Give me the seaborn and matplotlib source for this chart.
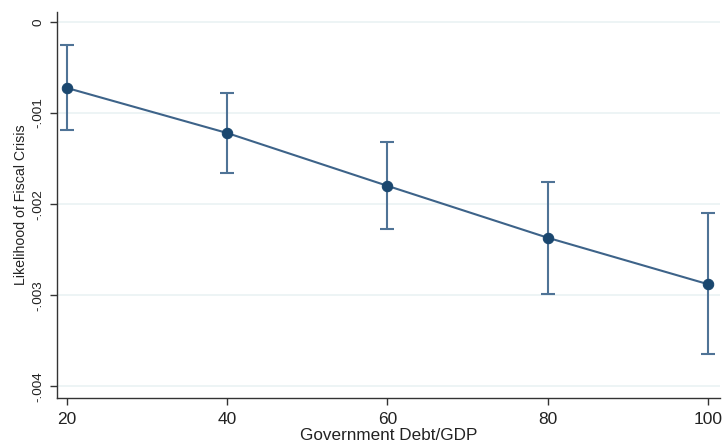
import matplotlib
matplotlib.use("Agg")
import matplotlib.pyplot as plt
import seaborn as sns
import pandas as pd
from matplotlib.ticker import FuncFormatter

debt = [20, 40, 60, 80, 100]
effect = [-0.000725, -0.00122, -0.00180, -0.00237, -0.00288]
ci_upper = [-0.000253, -0.00078, -0.00132, -0.00176, -0.00210]
ci_lower = [-0.00119, -0.00166, -0.00227, -0.00299, -0.00365]
x_ticks = [20, 40, 60, 80, 100]
y_ticks = [0, -0.001, -0.002, -0.003, -0.004]

df = pd.DataFrame({"debt": debt, "effect": effect, "lo": ci_lower, "hi": ci_upper})

sns.set_theme(style="white")
plt.rcParams['font.family'] = ['Liberation Sans', 'DejaVu Sans']

fig = plt.figure(figsize=(7.24, 4.42), dpi=100)
ax = fig.add_axes([0.0787, 0.0995, 0.9158, 0.8735])

for yt in y_ticks:
    ax.axhline(yt, color="#eaf2f3", lw=1.2, zorder=0)

err_lo = df["effect"] - df["lo"]
err_hi = df["hi"] - df["effect"]
ax.errorbar(df["debt"], df["effect"], yerr=[err_lo, err_hi], fmt="none",
            ecolor="#4f7396", elinewidth=1.5, capsize=5, capthick=1.5, zorder=2)
sns.lineplot(data=df, x="debt", y="effect", ax=ax, color="#3d6389", lw=1.5,
             marker="o", markersize=7.5, markerfacecolor="#1a476f",
             markeredgecolor="#1a476f", zorder=3)

ax.set_xlim(18.75, 101.5)
ax.set_ylim(-0.00413, 0.00011)
ax.set_xticks(x_ticks)
ax.set_yticks(y_ticks)

def fmt(v, pos):
    if abs(v) < 1e-12:
        return "0"
    s = f"{v:.3f}"
    return s.replace("0.", ".")
ax.yaxis.set_major_formatter(FuncFormatter(fmt))

for lab in ax.get_yticklabels():
    lab.set_rotation(90)
    lab.set_va("center")

ax.tick_params(axis="both", which="major", direction="out", length=5, width=1,
               color="#333333", labelcolor="#222222")
ax.tick_params(axis="x", bottom=True, labelsize=12.5, pad=5)
ax.tick_params(axis="y", left=True, labelsize=9.7, pad=4)

for s in ["top", "right"]:
    ax.spines[s].set_visible(False)
for s in ["left", "bottom"]:
    ax.spines[s].set_color("#333333")
    ax.spines[s].set_linewidth(1)

ax.set_xlabel("Government Debt/GDP", fontsize=12.3, color="#222222", labelpad=1)
ax.set_ylabel("Likelihood of Fiscal Crisis", fontsize=10.2, color="#222222", labelpad=3)

fig.savefig("out.png", dpi=100, facecolor="white")
